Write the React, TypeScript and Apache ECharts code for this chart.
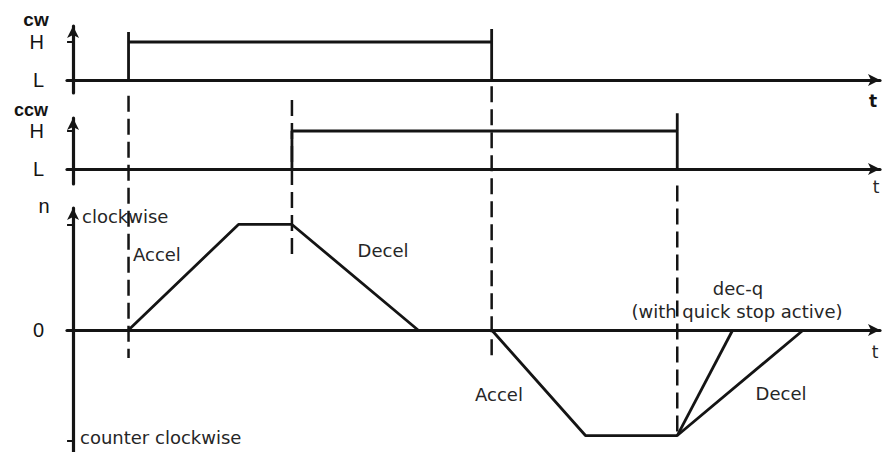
import React, { useEffect, useRef } from "react";
import * as echarts from "echarts";

// Time instants of the events (arbitrary time units on the t axis)
const cwTimes = [5.5, 5.5, 5.5, 41.5, 41.5, 41.5];
const cwLevels = [0, 1.26, 1, 1, 1.34, 0];

const ccwTimes = [21.7, 21.7, 59.9, 59.9, 59.9];
const ccwLevels = [0, 1, 1, 1.47, 0];

const cwRunTimes = [5.5, 16.4, 21.7, 34.2];
const cwRunSpeed = [0, 1, 1, 0];

const ccwRunTimes = [41.5, 50.8, 59.9, 72.4];
const ccwRunSpeed = [0, -1, -1, 0];

const quickStopTimes = [59.9, 65.4];
const quickStopSpeed = [-1, 0];

// vertical dashed guides (in speed-axis units, drawn unclipped)
const guideTimes = [5.5, 21.7, 41.5, 59.9];
const guideTop = [2.22, 2.18, 2.31, 1.37];
const guideBottom = [-0.265, 0.71, -0.265, -1.0];

const signalTickValues = [0, 1];
const signalTickLabels = ["L", "H"];
const speedTickValues = [1, 0, -1.05];

const INK = "#141414";
const TXT = "#262626";

const zip = (a: number[], b: number[]) => a.map((v, i) => [v, b[i]]);

export default function App() {
  const ref = useRef<HTMLDivElement>(null);
  useEffect(() => {
    if (!ref.current) return;
    const chart = echarts.init(ref.current, undefined, { renderer: "svg" });

    const xAxisBase = (gridIndex: number) => ({
      gridIndex,
      type: "value",
      min: -0.6,
      max: 80,
      axisLine: {
        show: true,
        onZero: true,
        symbol: ["none", "arrow"],
        symbolSize: [9, 12],
        lineStyle: { color: INK, width: 3.2 },
      },
      axisTick: { show: false },
      axisLabel: { show: false },
      splitLine: { show: false },
    });

    const signalY = (gridIndex: number, min: number, max: number) => ({
      gridIndex,
      type: "value",
      min,
      max,
      axisLine: {
        show: true,
        onZero: true,
        symbol: ["none", "arrow"],
        symbolSize: [9, 12],
        lineStyle: { color: INK, width: 3.2 },
      },
      axisTick: {
        show: true,
        customValues: signalTickValues,
        length: 6,
        lineStyle: { color: INK, width: 2 },
      },
      axisLabel: {
        show: true,
        customValues: signalTickValues,
        formatter: (v: number) => signalTickLabels[signalTickValues.indexOf(v)] ?? "",
        margin: 23,
        fontSize: 20,
        padding: [6, 0, 0, 0],
        fontFamily: "Liberation Sans",
        color: INK,
      },
      splitLine: { show: false },
    });

    const text = (t: string, x: number, y: number, opts: any = {}) => ({
      type: "text",
      x,
      y,
      silent: true,
      style: {
        text: t,
        fill: opts.fill ?? TXT,
        font: opts.font ?? "18px 'DejaVu Sans'",
        align: opts.align ?? "center",
        textAlign: opts.align ?? "center",
        verticalAlign: "middle",
        textVerticalAlign: "middle",
      },
    });

    const lineSeries = (data: number[][], xi: number, extra: any = {}) => ({
      type: "line",
      xAxisIndex: xi,
      yAxisIndex: xi,
      data,
      symbol: "none",
      silent: true,
      clip: false,
      lineStyle: { color: INK, width: 2.8, ...(extra.lineStyle || {}) },
      z: extra.z ?? 3,
    });

    const guideSeries = guideTimes.map((t, i) =>
      lineSeries(
        [
          [t, guideTop[i]],
          [t, guideBottom[i]],
        ],
        2,
        { lineStyle: { type: [16, 7], width: 2.5 }, z: 2 }
      )
    );

    chart.setOption({
      animation: false,
      backgroundColor: "#ffffff",
      grid: [
        { left: 67, right: 7, top: 26, height: 67 },
        { left: 67, right: 7, top: 118, height: 66 },
        { left: 67, right: 7, top: 208, height: 244 },
      ],
      xAxis: [xAxisBase(0), xAxisBase(1), xAxisBase(2)],
      yAxis: [
        signalY(0, -0.34, 1.42),
        signalY(1, -0.395, 1.342),
        {
          gridIndex: 2,
          type: "value",
          min: -1.156,
          max: 1.156,
          axisLine: {
            show: true,
            onZero: true,
            symbol: ["none", "arrow"],
            symbolSize: [9, 12],
            lineStyle: { color: INK, width: 3.2 },
          },
          axisTick: {
            show: true,
            customValues: speedTickValues,
            length: 6,
            lineStyle: { color: INK, width: 2 },
          },
          axisLabel: {
            show: true,
            customValues: [0],
            formatter: () => "0",
            margin: 23,
            fontSize: 20,
            padding: [4, 0, 0, 0],
            fontFamily: "Liberation Sans",
            color: INK,
          },
          splitLine: { show: false },
        },
      ],
      series: [
        lineSeries(zip(cwTimes, cwLevels), 0),
        lineSeries(zip(ccwTimes, ccwLevels), 1),
        lineSeries(zip(cwRunTimes, cwRunSpeed), 2),
        lineSeries(zip(ccwRunTimes, ccwRunSpeed), 2),
        lineSeries(zip(quickStopTimes, quickStopSpeed), 2),
        ...guideSeries,
      ],
      graphic: [
        text("cw", 36, 19, { font: "bold 19px 'Liberation Sans'", fill: INK }),
        text("ccw", 31, 110, { font: "bold 18px 'Liberation Sans'", fill: INK }),
        text("n", 44, 206, { font: "20px 'Liberation Sans'", fill: INK }),
        text("t", 873, 101, { font: "bold 17px 'DejaVu Sans'", fill: INK }),
        text("t", 876, 187, { font: "17px 'DejaVu Sans'" }),
        text("t", 875, 352, { font: "17px 'DejaVu Sans'" }),
        text("clockwise", 82, 216, { align: "left" }),
        text("counter clockwise", 80, 437, { align: "left" }),
        text("Accel", 133, 254, { align: "left" }),
        text("Decel", 383, 250),
        text("dec-q", 738, 288),
        text("(with quick stop active)", 737, 311),
        text("Accel", 499, 394),
        text("Decel", 781, 393),
      ],
    });

    return () => chart.dispose();
  }, []);

  return (
    <div
      ref={ref}
      style={{ position: "fixed", left: 0, top: 0, width: 887, height: 452, background: "#fff" }}
    />
  );
}
